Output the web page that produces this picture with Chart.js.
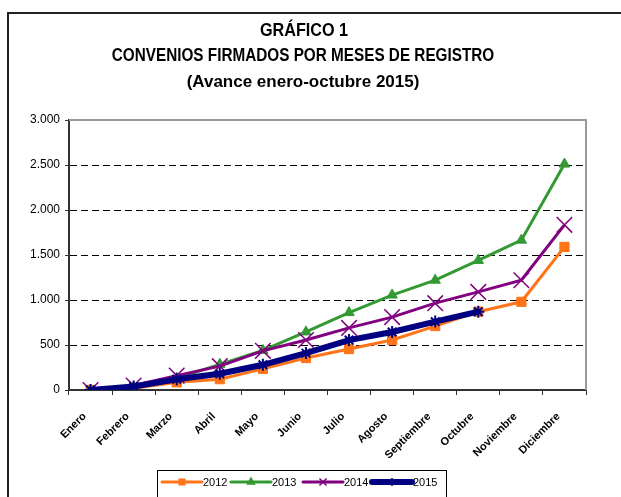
<!DOCTYPE html>
<html>
<head>
<meta charset="utf-8">
<script src="https://cdn.jsdelivr.net/npm/chart.js@4/dist/chart.umd.min.js"></script>
<style>
html,body{margin:0;padding:0;background:#fff;}
canvas{display:block;}
</style>
</head>
<body>
<canvas id="c" width="621" height="497"></canvas>
<script>
const months = ["Enero","Febrero","Marzo","Abril","Mayo","Junio","Julio","Agosto","Septiembre","Octubre","Noviembre","Diciembre"];
const s2012 = [0, 20, 85, 120, 235, 355, 455, 555, 710, 870, 980, 1590];
const s2013 = [0, 30, 130, 285, 440, 645, 860, 1055, 1220, 1440, 1665, 2510];
const s2014 = [0, 50, 160, 265, 435, 555, 690, 810, 965, 1090, 1220, 1835];
const s2015 = [0, 40, 120, 180, 280, 410, 555, 645, 760, 870, null, null];
const yTicks = [0, 500, 1000, 1500, 2000, 2500, 3000];
const titleLines = ["GRÁFICO 1", "CONVENIOS FIRMADOS POR MESES DE REGISTRO", "(Avance enero-octubre 2015)"];
const seriesNames = ["2012", "2013", "2014", "2015"];

const FONT = "'Liberation Sans', Arial, sans-serif";
Chart.defaults.font.family = FONT;
Chart.defaults.color = '#000';

const colors = ['#FF7418', '#339933', '#800080', '#000080'];

const fmt = v => String(v).replace(/\B(?=(\d{3})+(?!\d))/g, '.');

function condensedText(ctx, text, cx, cy, sx) {
  ctx.save();
  ctx.translate(cx, cy);
  ctx.scale(sx, 1);
  ctx.fillText(text, 0, 0);
  ctx.restore();
}

const decor = {
  id: 'decor',
  afterDraw(chart) {
    const ctx = chart.ctx;
    const a = chart.chartArea;
    ctx.save();
    // outer frame
    ctx.strokeStyle = '#222';
    ctx.lineWidth = 2;
    ctx.beginPath();
    ctx.moveTo(8, 497); ctx.lineTo(8, 13); ctx.lineTo(621, 13);
    ctx.stroke();
    // plot border top/right
    ctx.strokeStyle = '#999';
    ctx.lineWidth = 2;
    ctx.beginPath();
    ctx.moveTo(a.left, a.top); ctx.lineTo(a.right, a.top); ctx.lineTo(a.right, a.bottom);
    ctx.stroke();
    // title
    ctx.fillStyle = '#000';
    ctx.textAlign = 'center';
    ctx.textBaseline = 'middle';
    ctx.font = "bold 18px " + FONT;
    condensedText(ctx, titleLines[0], 304, 31, 0.9);
    condensedText(ctx, titleLines[1], 303, 56, 0.85);
    ctx.font = "bold 17px " + FONT;
    ctx.fillText(titleLines[2], 303, 82);
    // legend
    ctx.strokeStyle = '#000';
    ctx.lineWidth = 1;
    ctx.strokeRect(157.5, 470.5, 289, 30);
    const xs = [162, 231, 303, 372];
    const yc = 482;
    chart.data.datasets.forEach((ds, i) => {
      const x0 = xs[i], x1 = x0 + 40;
      ctx.strokeStyle = ds.borderColor;
      ctx.fillStyle = ds.borderColor;
      ctx.lineWidth = ds.borderWidth;
      ctx.lineCap = 'round';
      ctx.beginPath(); ctx.moveTo(x0, yc); ctx.lineTo(x1, yc); ctx.stroke();
      ctx.lineCap = 'butt';
      ctx.lineWidth = 1.5;
      Chart.helpers.drawPoint(ctx, {
        pointStyle: ds.pointStyle, radius: i === 2 ? 5 : 4, rotation: 0,
        borderWidth: 1.5
      }, (x0 + x1) / 2, yc);
      ctx.fillStyle = '#000';
      ctx.textAlign = 'left';
      ctx.font = "11px " + FONT;
      ctx.fillText(seriesNames[i], x1 + 1, yc + 1);
    });
    ctx.restore();
  }
};

function mk(label, data, color, style, radius, lw, order, pbw) {
  return {
    label, data, borderColor: color, backgroundColor: color,
    pointBackgroundColor: color, pointBorderColor: color,
    pointStyle: style, pointRadius: radius, pointBorderWidth: pbw,
    borderWidth: lw, tension: 0, order, spanGaps: false
  };
}

new Chart(document.getElementById('c'), {
  type: 'line',
  data: {
    labels: months,
    datasets: [
      mk(seriesNames[0], s2012, colors[0], 'rect', 6.5, 3, 4, 1),
      mk(seriesNames[1], s2013, colors[1], 'triangle', 6, 3, 3, 1),
      mk(seriesNames[2], s2014, colors[2], 'crossRot', 11, 3, 2, 1.5),
      mk(seriesNames[3], s2015, colors[3], 'star', 6, 6, 1, 2)
    ]
  },
  options: {
    responsive: false,
    animation: false,
    layout: { padding: { left: 0, top: 120, right: 35, bottom: 27 } },
    plugins: { legend: { display: false }, title: { display: false }, tooltip: { enabled: false } },
    scales: {
      x: {
        offset: true,
        afterFit: s => { s.height = 80; },
        grid: { offset: true, drawOnChartArea: false, tickLength: 5, color: '#333' },
        border: { color: '#333', width: 2 },
        ticks: { font: { size: 11, weight: 'bold' }, maxRotation: 45, minRotation: 45, padding: 15, labelOffset: -6, autoSkip: false, color: '#000' }
      },
      y: {
        min: 0, max: 3000,
        afterFit: s => { s.width = 69; },
        afterBuildTicks: s => { s.ticks = yTicks.map(v => ({ value: v })); },
        grid: {
          color: c => (c.tick && (c.tick.value === 0 || c.tick.value === 3000)) ? 'rgba(0,0,0,0)' : '#000',
          tickColor: '#333', tickLength: 4, lineWidth: 1
        },
        border: { color: '#333', width: 2, dash: [7, 4] },
        ticks: { font: { size: 12 }, padding: 5, color: '#000', callback: v => fmt(v) }
      }
    }
  },
  plugins: [decor]
});
</script>
</body>
</html>
